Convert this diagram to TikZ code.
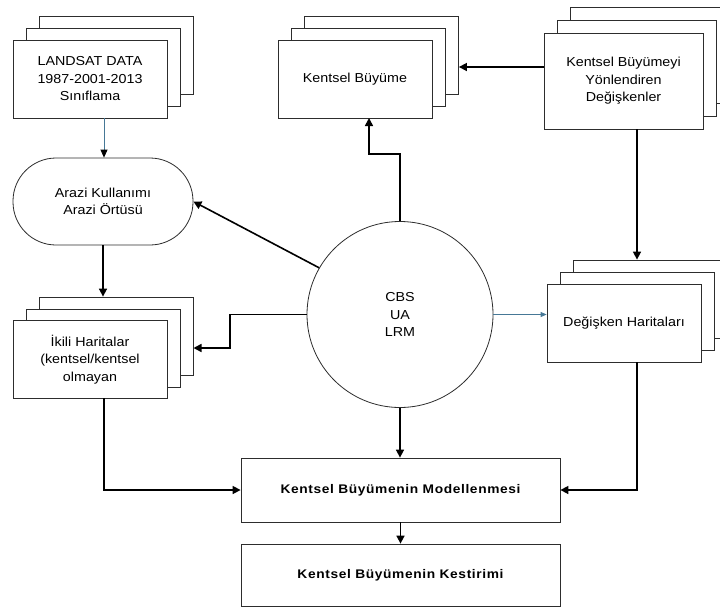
\documentclass[tikz,border=0pt]{standalone}
\usepackage{fontspec}
\setmainfont{Liberation Sans}[FakeStretch=1.1]
\usetikzlibrary{arrows.meta}
\definecolor{bordergray}{RGB}{45,45,45}
\definecolor{tealline}{RGB}{70,120,150}
\begin{document}
\begin{tikzpicture}[x=1pt,y=-1pt,
  box/.style={draw=bordergray, fill=white, line width=0.8pt, inner sep=0pt, align=center,
              font=\fontsize{13}{17.5}\selectfont},
  stk/.style={box, minimum width=154pt, minimum height=78pt},
  bigbox/.style={box, minimum width=319pt, font=\fontsize{12.5}{16}\bfseries\addfontfeature{LetterSpace=5}},
  conn/.style={line width=1.6pt, draw=black, -{Triangle[length=8pt,width=8pt]}},
  thinconn/.style={line width=0.8pt, draw=tealline, -{Triangle[length=8pt,width=7pt,black]}},
  tealconn/.style={line width=0.8pt, draw=tealline, -{Triangle[length=6pt,width=5pt,tealline]}}
]
\useasboundingbox (0,0) rectangle (720,608);

% LANDSAT stack
\node[stk] (ls3) at (116.5,55.5) {};
\node[stk] (ls2) at (103.5,67.5) {};
\node[stk] (ls1) at (90,79) {LANDSAT DATA\\1987-2001-2013\\Sınıflama};

% Kentsel Büyüme stack
\node[stk] (kb3) at (381.5,55.5) {};
\node[stk] (kb2) at (368.5,67.5) {};
\node[stk] (kb1) at (355,79) {Kentsel Büyüme};

% Kentsel Büyümeyi stack
\node[box, minimum width=159pt, minimum height=96pt] (ky3) at (649.5,55.5) {};
\node[box, minimum width=159pt, minimum height=96pt] (ky2) at (636.5,68) {};
\node[box, minimum width=159pt, minimum height=96pt] (ky1) at (623.5,81) {Kentsel Büyümeyi\\Yönlendiren\\Değişkenler};

% Arazi
\node[box, minimum width=180pt, minimum height=87pt, rounded corners=43pt] (arazi) at (103,201.5) {Arazi Kullanımı\\Arazi Örtüsü};

% Ikili stack
\node[stk] (ik3) at (116.5,336) {};
\node[stk] (ik2) at (103.5,348) {};
\node[stk] (ik1) at (90,359.5) {İkili Haritalar\\(kentsel/kentsel\\olmayan};

% Degisken stack
\node[stk] (dh3) at (650,299) {};
\node[stk] (dh2) at (637,311) {};
\node[stk] (dh1) at (624,323) {Değişken Haritaları};

% Circle
\node[box, circle, minimum size=186pt] (cbs) at (400,314.5) {CBS\\UA\\LRM};

% Bottom boxes
\node[bigbox, minimum height=64pt] (mod) at (400.5,490) {Kentsel Büyümenin Modellenmesi};
\node[bigbox, minimum height=62pt] (kes) at (400.5,575) {Kentsel Büyümenin Kestirimi};

% helper coordinates
\coordinate (lsout) at (104,118);
\coordinate (cbsbend) at (230,314.5);
\coordinate (ikin) at (193.5,348);
\coordinate (kbbend) at (369,154);
\coordinate (kbin) at (369,118);
\coordinate (kyout) at (544,67);
\coordinate (kydown) at (637,129);
\coordinate (ikout) at (104,398);

% connectors
\draw[thinconn] (lsout) -- (lsout |- arazi.north);
\draw[conn] (arazi.south) -- (arazi.south |- ik3.north);
\draw[conn] (cbs.150) -- (arazi.east);
\draw[conn] (cbs.west) -- (cbsbend) |- (ikin);
\draw[conn] (cbs.north) |- (kbbend) -- (kbin);
\draw[conn] (kyout) -- (kyout -| kb3.east);
\draw[conn] (kydown) -- (kydown |- dh3.north);
\draw[tealconn] (cbs.east) -- (cbs.east -| dh1.west);
\draw[conn] (kydown |- dh1.south) |- (mod.east);
\draw[conn] (ikout) |- (mod.west);
\draw[conn] (cbs.south) -- (cbs.south |- mod.north);
\draw[conn] (mod.south) -- (mod.south |- kes.north);
\end{tikzpicture}
\end{document}
